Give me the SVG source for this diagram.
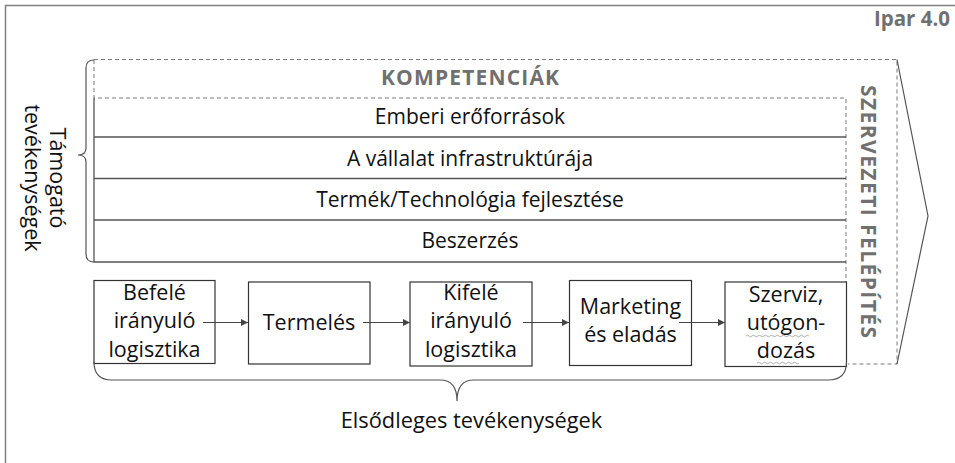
<svg xmlns="http://www.w3.org/2000/svg" width="955" height="463" viewBox="0 0 955 463">
<style>
  .t { font-family: "Open Sans", "Liberation Sans", sans-serif; fill: #111; }
  .row { font-size: 21px; text-anchor: middle; }
  .box { font-size: 21.5px; text-anchor: middle; }
  .grey { font-family: "Open Sans", "Liberation Sans", sans-serif; fill: #707070; font-weight: bold; }
  .dash { fill: none; stroke: #7a7a7a; stroke-width: 1; stroke-dasharray: 4 3; }
  .solid { fill: none; stroke: #555; stroke-width: 1.3; }
  .node rect { fill: #fff; stroke: #333; stroke-width: 1.2; }
  .conn line { stroke: #444; stroke-width: 1.2; marker-end: url(#ah); }
  .wave { fill: none; stroke: #999; stroke-width: 0.8; }
</style>
<defs>
  <marker id="ah" markerWidth="8" markerHeight="8" refX="7" refY="4" orient="auto" markerUnits="userSpaceOnUse">
    <path d="M0,0.5 L7,4 L0,7.5 Z" fill="#444"/>
  </marker>
</defs>
<rect x="0" y="0" width="955" height="463" fill="#fff"/>
<!-- outer frame -->
<rect x="5.5" y="5.5" width="965" height="480" fill="none" stroke="#808080" stroke-width="1.5"/>
<text class="grey" x="950" y="26" font-size="20.5" text-anchor="end">Ipar 4.0</text>

<!-- organisational structure area -->
<g id="szervezeti">
  <path class="dash" d="M94,59.5 H897 V364 H848"/>
  <path d="M897,59.5 L928,216 L897,364" fill="none" stroke="#555" stroke-width="1.2"/>
  <text class="grey" font-size="21" text-anchor="middle" textLength="253" lengthAdjust="spacing" transform="translate(861,211.5) rotate(90)">SZERVEZETI FELÉPÍTÉS</text>
</g>

<!-- support activities -->
<g id="tamogato">
  <path class="dash" d="M94,60 V98 H846 V362"/>
  <text class="grey" x="470" y="85" font-size="21" text-anchor="middle" textLength="178" lengthAdjust="spacing">KOMPETENCIÁK</text>
  <path class="solid" d="M94,98 V262 H846"/>
  <line x1="94" y1="137" x2="846" y2="137" stroke="#555" stroke-width="1.3"/>
  <line x1="94" y1="178.5" x2="846" y2="178.5" stroke="#555" stroke-width="1.3"/>
  <line x1="94" y1="220" x2="846" y2="220" stroke="#555" stroke-width="1.3"/>
  <text class="t row" x="470" y="124">Emberi erőforrások</text>
  <text class="t row" x="470" y="165.5">A vállalat infrastruktúrája</text>
  <text class="t row" x="470" y="207">Termék/Technológia fejlesztése</text>
  <text class="t row" x="470" y="247.5">Beszerzés</text>
  <path d="M94,60 Q86,60 86,68 V148 Q86,155 78,155 Q86,155 86,162 V254 Q86,262 94,262" fill="none" stroke="#555" stroke-width="1.2"/>
  <text class="t" font-size="21.5" text-anchor="middle" transform="translate(50,178) rotate(90)">Támogató</text>
  <text class="t" font-size="21.5" text-anchor="middle" transform="translate(25,178) rotate(90)">tevékenységek</text>
</g>

<!-- primary activities -->
<g id="n1" class="node">
  <rect x="94" y="280.5" width="121" height="83"/>
  <text class="t box" x="154.5" y="300">Befelé</text>
  <text class="t box" x="154.5" y="328">irányuló</text>
  <text class="t box" x="154.5" y="356.5">logisztika</text>
</g>
<g id="n2" class="node">
  <rect x="248.5" y="282" width="121.5" height="82"/>
  <text class="t box" x="309" y="330">Termelés</text>
</g>
<g id="n3" class="node">
  <rect x="410" y="282" width="122" height="84"/>
  <text class="t box" x="471" y="300">Kifelé</text>
  <text class="t box" x="471" y="328">irányuló</text>
  <text class="t box" x="471" y="356.5">logisztika</text>
</g>
<g id="n4" class="node">
  <rect x="569.5" y="280.5" width="122" height="85"/>
  <text class="t box" x="630.5" y="313.5">Marketing</text>
  <text class="t box" x="630.5" y="341.5">és eladás</text>
</g>
<g id="n5" class="node">
  <rect x="725" y="282" width="121.5" height="84.5"/>
  <text class="t box" x="786" y="302">Szerviz,</text>
  <text class="t box" x="786" y="330">utógon-</text>
  <text class="t box" x="786" y="358">dozás</text>
  <path class="wave" d="M746,336 q1.5,-1.5 3,0 t3,0 t3,0 t3,0 t3,0 t3,0 t3,0 t3,0 t3,0 t3,0 t3,0 t3,0 t3,0 t3,0 t3,0 t3,0 t3,0 t3,0 t3,0 t3,0 t3,0"/>
  <path class="wave" d="M757,363 q1.5,-1.5 3,0 t3,0 t3,0 t3,0 t3,0 t3,0 t3,0 t3,0 t3,0 t3,0 t3,0 t3,0 t3,0 t3,0"/>
</g>

<g id="connectors" class="conn">
  <line x1="203" y1="322.5" x2="248" y2="322.5"/>
  <line x1="363" y1="322.5" x2="410" y2="322.5"/>
  <line x1="523" y1="322.5" x2="569" y2="322.5"/>
  <line x1="679" y1="322.5" x2="725" y2="322.5"/>
</g>

<g id="elsodleges">
  <path d="M94,362 Q94,380 112,380 H440 Q457,380 457,401 Q457,380 474,380 H828 Q846.5,380 846.5,362" fill="none" stroke="#555" stroke-width="1.2"/>
  <text class="t" x="471.5" y="428" font-size="21.8" text-anchor="middle">Elsődleges tevékenységek</text>
</g>
</svg>
